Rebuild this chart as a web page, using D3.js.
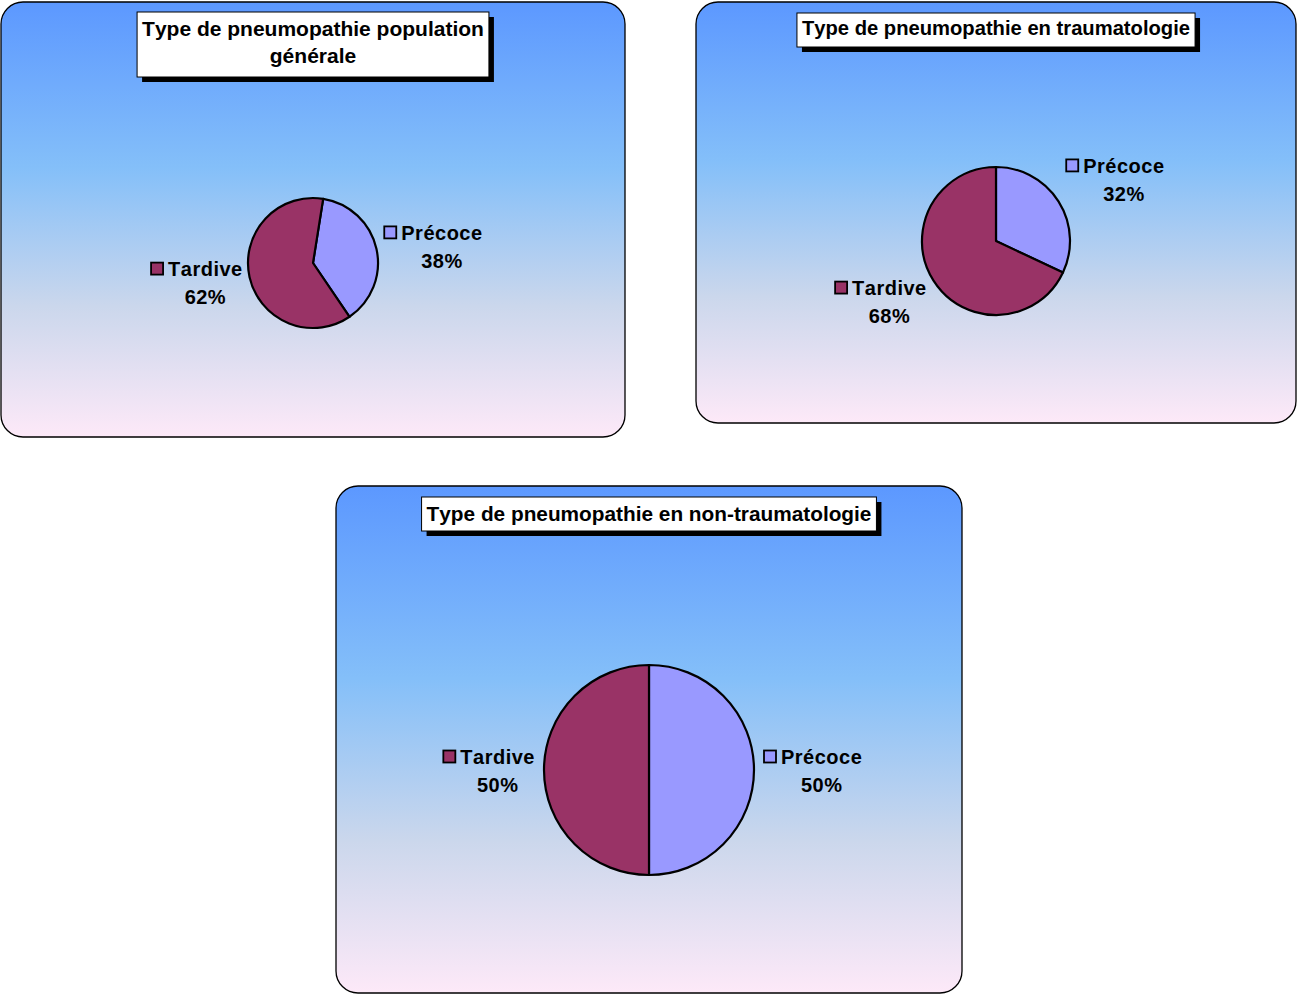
<!DOCTYPE html>
<html><head><meta charset="utf-8">
<script src="https://cdn.jsdelivr.net/npm/d3@7"></script>
<style>body{margin:0;background:#fff;}svg{display:block;} text{font-kerning:none;}</style>
</head><body>
<script>
const categories = ["Précoce", "Tardive"];
const titles = [
  ["Type de pneumopathie population", "générale"],
  ["Type de pneumopathie en traumatologie"],
  ["Type de pneumopathie en non-traumatologie"]
];
const valuesGeneral = [38, 62];
const valuesTrauma = [32, 68];
const valuesNonTrauma = [50, 50];
const seriesValues = [valuesGeneral, valuesTrauma, valuesNonTrauma];
const colors = ["#9999FF", "#993366"];

const panels = [
  {x: 1, y: 2, w: 624, h: 435, cx: 313, cy: 263, r: 65, rot: 9, titleY: 12, tfont: 21, tdy: 24, R: 7, k: 11, shift: -0.5},
  {x: 696, y: 2, w: 600, h: 421, cx: 996, cy: 241, r: 74, rot: 0, titleY: 13, tfont: 20.2, tdy: 22, R: 8, k: 32, shift: -2.5},
  {x: 336, y: 486, w: 626, h: 507, cx: 649, cy: 770, r: 105, rot: 0, titleY: 497, tfont: 20.8, tdy: 24, R: 9, k: 0, shift: -1.5}
];

const svg = d3.select("body").append("svg").attr("width", 1297).attr("height", 994);
const defs = svg.append("defs");
const grad = defs.append("linearGradient").attr("id", "bg").attr("x1", 0).attr("y1", 0).attr("x2", 0).attr("y2", 1);
[[0, "#5c98ff"], [0.38, "#84bff9"], [0.7, "#cbd7ec"], [1, "#fde9f8"]].forEach(([o, c]) =>
  grad.append("stop").attr("offset", o).attr("stop-color", c));

const FONT = "'Liberation Sans', Arial, sans-serif";
const LFS = 20;

panels.forEach((p, i) => {
  const g = svg.append("g");
  g.append("rect").attr("x", p.x).attr("y", p.y).attr("width", p.w).attr("height", p.h)
    .attr("rx", 22).attr("ry", 22).attr("fill", "url(#bg)").attr("stroke", "#000").attr("stroke-width", 1.3);

  // title
  const lines = titles[i];
  const lh = 27;
  const tg = g.append("g");
  const tmp = tg.append("g");
  const texts = lines.map((l, k) => tmp.append("text").attr("font-family", FONT).attr("font-weight", "bold")
    .attr("font-size", p.tfont).attr("text-anchor", "middle").attr("x", p.x + p.w / 2)
    .attr("y", p.titleY + p.tdy + k * lh).attr("fill", "#000").text(l));
  const tw = d3.max(texts, t => t.node().getComputedTextLength());
  const bw = tw + 10, bh = lines.length === 1 ? 34 : 65;
  const bx = p.x + p.w / 2 - bw / 2;
  tg.insert("rect", "g").attr("x", bx + 5).attr("y", p.titleY + 5).attr("width", bw).attr("height", bh).attr("fill", "#000");
  tg.insert("rect", "g").attr("x", bx).attr("y", p.titleY).attr("width", bw).attr("height", bh)
    .attr("fill", "#fff").attr("stroke", "#000").attr("stroke-width", 1);

  // pie
  const rot = p.rot * Math.PI / 180;
  const pie = d3.pie().sort(null).value(d => d.v).startAngle(rot).endAngle(rot + 2 * Math.PI);
  const data = categories.map((c, k) => ({c, v: seriesValues[i][k], color: colors[k]}));
  const arcs = pie(data);
  const arc = d3.arc().innerRadius(0).outerRadius(p.r);
  const pg = g.append("g").attr("transform", `translate(${p.cx},${p.cy})`);
  pg.selectAll("path").data(arcs).join("path").attr("d", arc)
    .attr("fill", d => d.data.color).attr("stroke", "#000").attr("stroke-width", 2.2).attr("stroke-linejoin", "round");

  // labels
  const total = d3.sum(data, d => d.v);
  arcs.forEach(a => {
    const mid = (a.startAngle + a.endAngle) / 2;
    const R = p.r + p.R;
    const px = p.cx + Math.sin(mid) * R;
    const right = Math.sin(mid) >= 0;
    const fs = LFS;
    const h = fs * 2.15;
    const cyBlock = p.cy - Math.cos(mid) * (R + p.k) + p.shift;
    const lg = g.append("g");
    const name = lg.append("text").attr("font-family", FONT).attr("font-weight", "bold").attr("font-size", fs)
      .attr("letter-spacing", 0.5).attr("fill", "#000").text(a.data.c);
    const nameW = name.node().getComputedTextLength();
    const ms = 12;
    const gap = 6;
    const blockW = ms + gap + nameW;
    const left = right ? px : px - blockW;
    const y1 = cyBlock - h / 2 + fs * 0.85;
    lg.append("rect").attr("x", left + 1).attr("y", y1 - 13.5).attr("width", ms).attr("height", ms)
      .attr("fill", a.data.color).attr("stroke", "#000").attr("stroke-width", 1.8);
    name.attr("x", left + ms + gap).attr("y", y1);
    lg.append("text").attr("font-family", FONT).attr("font-weight", "bold").attr("font-size", fs)
      .attr("letter-spacing", 0.5).attr("fill", "#000").attr("text-anchor", "middle")
      .attr("x", left + ms + gap + nameW / 2).attr("y", y1 + fs * 1.4)
      .text(Math.round(a.data.v / total * 100) + "%");
  });
});
</script>
</body></html>
